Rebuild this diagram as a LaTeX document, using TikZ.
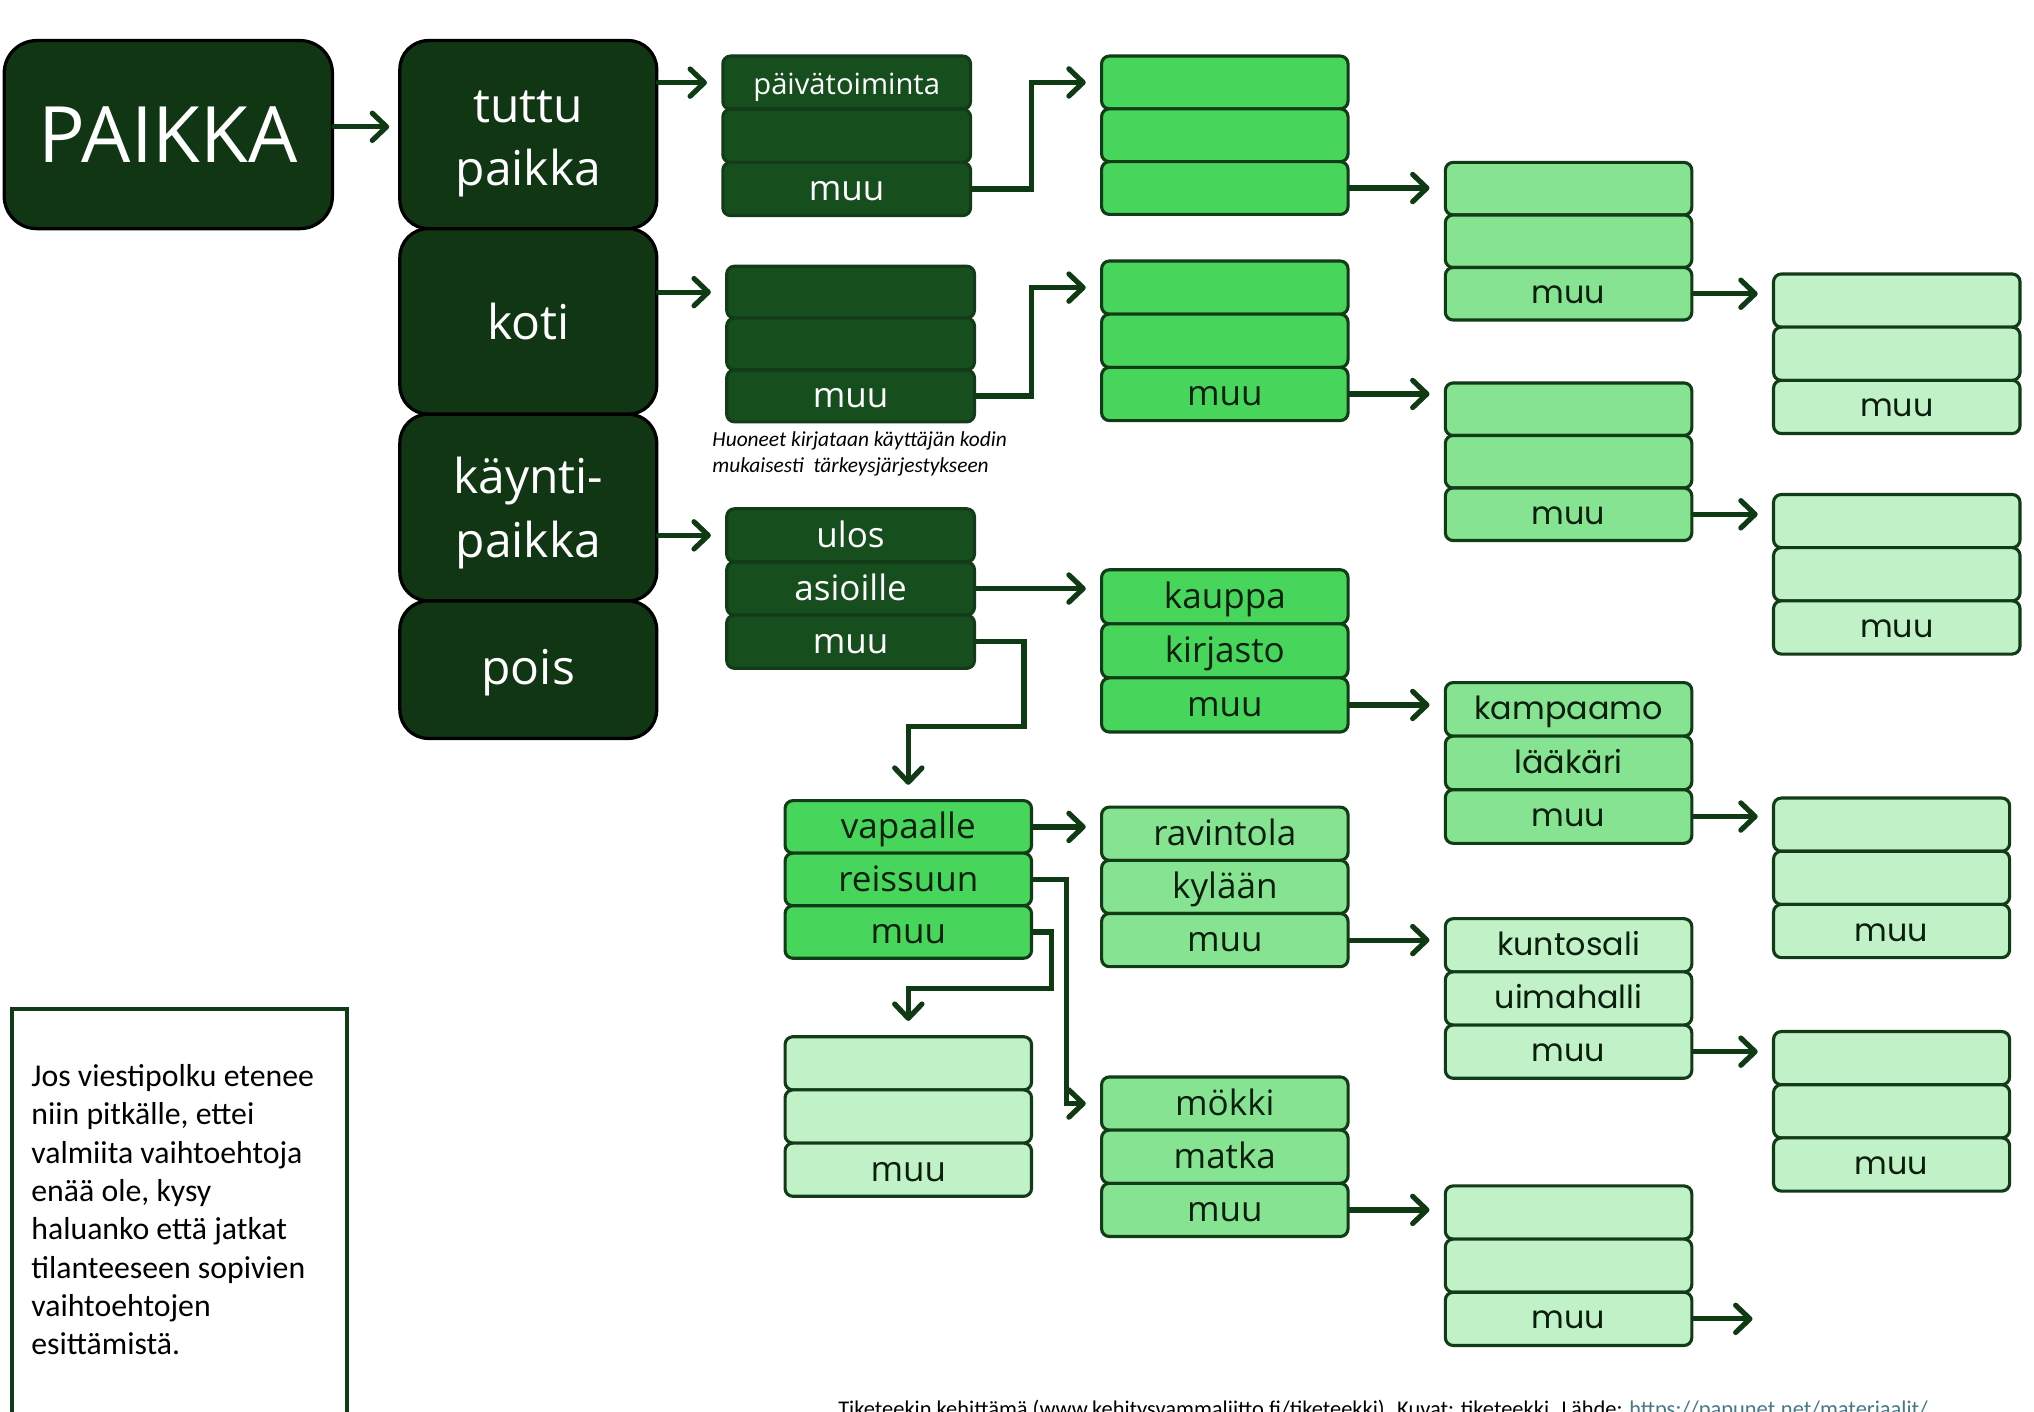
\documentclass[tikz,border=0pt]{standalone}
\usepackage{fontspec}
\setmainfont{Carlito}
\newfontfamily\osf{Open Sans}
\newfontfamily\ppf{Poppins}
\usetikzlibrary{arrows.meta,calc}
\definecolor{dkone}{HTML}{103614}
\definecolor{dktwo}{HTML}{174E1E}
\definecolor{mdg}{HTML}{47D65B}
\definecolor{ltg}{HTML}{86E391}
\definecolor{vlg}{HTML}{C1F1C7}
\definecolor{bord}{HTML}{123B17}
\definecolor{arrc}{HTML}{0F3A14}
\definecolor{txt}{HTML}{0B1F0D}
\definecolor{linkc}{HTML}{467886}
\newcommand\stk[9]{%
  \node[#6, minimum width=#4pt, minimum height=#5pt, anchor=north west] (#11) at (#2,#3) {#7};
  \node[#6, minimum width=#4pt, minimum height=#5pt, anchor=north west] (#12) at (#2,{#3+#5}) {#8};
  \node[#6, minimum width=#4pt, minimum height=#5pt, anchor=north west] (#13) at (#2,{#3+2*#5}) {#9};
}
\newcommand\lowtxt[2]{\raisebox{-#1}[\height][\depth]{\begin{tabular}{@{}c@{}}#2\end{tabular}}}
\tikzset{
  bigbox/.style={fill=dkone, draw=black, line width=2.5pt, rounded corners=22pt,
    text=white, align=center, inner sep=0pt, font=\osf\fontsize{37}{49}\selectfont},
  sbox/.style={draw=bord, line width=2.4pt, rounded corners=6pt, inner sep=0pt},
  osbox/.style={sbox, font=\osf\fontsize{27}{30}\selectfont, text height=18pt, text depth=0pt},
  ppbox/.style={sbox, font=\ppf\fontsize{24.5}{28}\selectfont, text height=15.5pt, text depth=0pt},
  dk/.style={osbox, fill=dktwo, text=white},
  md/.style={osbox, fill=mdg, text=txt},
  lt/.style={osbox, fill=ltg, text=txt},
  vl/.style={osbox, fill=vlg, text=txt},
  ltp/.style={ppbox, fill=ltg, text=txt},
  vlp/.style={ppbox, fill=vlg, text=txt},
  arr/.style={draw=arrc, line width=4pt, line cap=round, line join=miter,
    -{Straight Barb[length=11pt, width=21pt, round]}, shorten >=11pt},
}
\begin{document}
\begin{tikzpicture}[x=1pt,y=-1pt]
\useasboundingbox (0,0) rectangle (1568,1088);
\fill[white] (0,0) rectangle (1568,1088);

% main boxes
\node[bigbox, rounded corners=25pt, minimum width=253pt, minimum height=145pt, anchor=north west,
  font=\osf\fontsize{60}{66}\selectfont] (P) at (2,30) {PAIKKA};
\node[bigbox, minimum width=198pt, minimum height=145pt, anchor=north west] (tp) at (307,30) {\lowtxt{5pt}{tuttu\\paikka}};
\node[bigbox, minimum width=198pt, minimum height=143pt, anchor=north west] (ko) at (307,175) {koti};
\node[bigbox, minimum width=198pt, minimum height=144pt, anchor=north west] (kp) at (307,318) {\lowtxt{4pt}{käynti-\\paikka}};
\node[bigbox, minimum width=198pt, minimum height=106pt, anchor=north west] (po) at (307,462) {\lowtxt{2pt}{pois}};

% column 2
\stk{d}{556}{42}{191}{41}{dk}{\fontsize{22.5}{25}\selectfont päivätoiminta}{}{muu}
\stk{k}{559}{204}{191}{40}{dk}{}{}{muu}
\stk{a}{559}{391}{191}{41}{dk}{ulos}{asioille}{muu}

% column 3
\stk{A}{848}{42}{190}{40.7}{md}{}{}{}
\stk{B}{848}{200}{190}{41}{md}{}{}{muu}
\stk{C}{848}{438}{190}{41.7}{md}{kauppa}{kirjasto}{muu}
\stk{V}{604}{616}{190}{40.5}{md}{vapaalle}{reissuun}{muu}
\stk{W}{604}{798}{190}{41}{vl}{}{}{muu}
\stk{R}{848}{621}{190}{41}{lt}{ravintola}{kylään}{muu}
\stk{M}{848}{829}{190}{41}{lt}{mökki}{matka}{muu}

% column 4
\stk{D}{1113}{124}{190}{40.5}{ltp}{}{}{muu}
\stk{E}{1113}{294}{190}{40.5}{ltp}{}{}{muu}
\stk{F}{1113}{525}{190}{41.3}{ltp}{kampaamo}{lääkäri}{muu}
\stk{G}{1113}{707}{190}{41}{vlp}{kuntosali}{uimahalli}{muu}
\stk{H}{1113}{913}{190}{41}{vlp}{}{}{muu}

% column 5
\stk{I}{1366}{210}{190}{41}{vlp}{}{}{muu}
\stk{J}{1366}{380}{190}{41}{vlp}{}{}{muu}
\stk{K}{1366}{614}{182}{41}{vlp}{}{}{muu}
\stk{L}{1366}{794}{182}{41}{vlp}{}{}{muu}

% connectors
\draw[arr, shorten >=7pt] ([yshift=6pt]P.east) -- ([yshift=6pt]P.east -| tp.west);
\draw[arr] (tp.east |- d1.west) -- (d1.west);
\draw[arr] (ko.east |- k1.west) -- (k1.west);
\draw[arr] (kp.east |- a1.west) -- (a1.west);
\draw[arr] (d3.east) -- ++(46,0) |- (A1.west);
\draw[arr] (k3.east) -- ++(43,0) |- (B1.west);
\draw[arr] (a2.east) -- (a2.east -| C1.west);
\draw[arr] (a3.east) -- ++(37,0) |- ([yshift=56pt]V1.north) -- (V1.north);
\draw[arr] (A3.east) -- (A3.east -| D1.west);
\draw[arr] (B3.east) -- (B3.east -| E1.west);
\draw[arr] (C3.east) -- (C3.east -| F1.west);
\draw[arr] (D3.east) -- (D3.east -| I1.west);
\draw[arr] (E3.east) -- (E3.east -| J1.west);
\draw[arr] (F3.east) -- (F3.east -| K1.west);
\draw[arr] (G3.east) -- (G3.east -| L1.west);
\coordinate (Hend) at (1362,1016);
\draw[arr] (H3.east) -- (H3.east -| Hend);
\draw[arr] (V1.east) -- (V1.east -| R1.west);
\draw[arr] (V2.east) -- ++(26,0) |- (M1.west);
\draw[arr] (V3.east) -- ++(14,0) |- ([yshift=36pt]W1.north) -- (W1.north);
\draw[arr] (R3.east) -- (R3.east -| G1.west);
\draw[arr] (M3.east) -- (M3.east -| H1.west);

% notes
\node[anchor=north west, inner sep=0pt, align=left, text=black,
  font=\itshape\fontsize{16.5}{20}\selectfont] (hn) at (549,332.5)
  {Huoneet kirjataan käyttäjän kodin\\mukaisesti\ \ tärkeysjärjestykseen};

\node[draw=bord, line width=3pt, fill=white, minimum width=258pt, minimum height=340pt,
  anchor=north west] (note) at (8,776) {};
\node[anchor=north west, inner sep=0pt, align=left, text=black,
  font=\fontsize{24.5}{29.5}\selectfont] (nt) at (24,820.5)
  {Jos viestipolku etenee\\niin pitkälle, ettei\\valmiita vaihtoehtoja\\enää ole, kysy\\haluanko että jatkat\\tilanteeseen sopivien\\vaihtoehtojen\\esittämistä.};

\node[anchor=base west, inner sep=0pt, text=black, font=\fontsize{17.3}{18}\selectfont] (ft) at (646,1092)
  {Tiketeekin kehittämä (www.kehitysvammaliitto.fi/tiketeekki). Kuvat: tiketeekki. Lähde: \textcolor{linkc}{https://papunet.net/materiaalit/}};
\end{tikzpicture}
\end{document}
